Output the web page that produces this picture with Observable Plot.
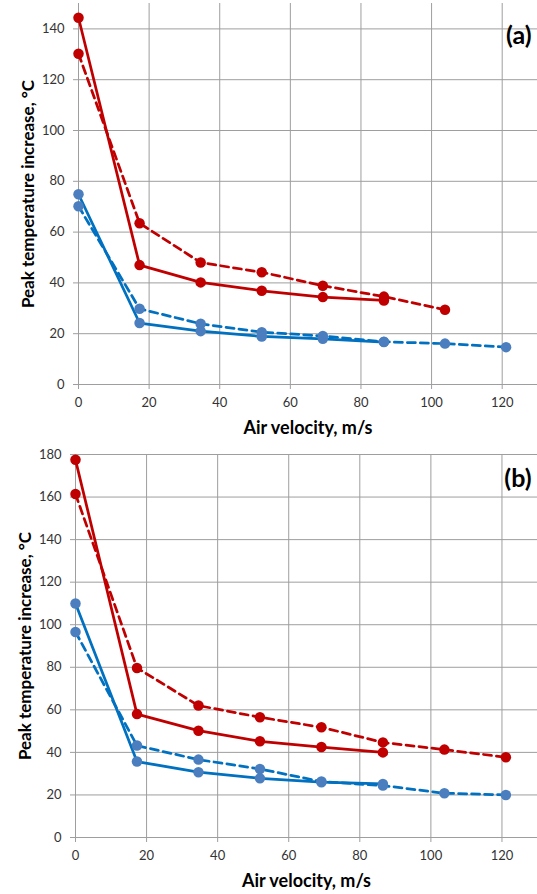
<!DOCTYPE html>
<html><head><meta charset="utf-8">
<script src="https://cdn.jsdelivr.net/npm/d3@7"></script>
<script src="https://cdn.jsdelivr.net/npm/@observablehq/plot@0.6"></script>
<style>body{margin:0;background:#fff} #chart svg{display:block}</style>
</head><body><div id="chart"></div>
<script>
// Air velocity, m/s
const velocity = [0, 17.3, 34.6, 51.9, 69.2, 86.5, 103.8, 121.1];
// Panel (a) peak temperature increase, °C
const aRedSolid   = [144.4, 47.0, 40.2, 36.9, 34.4, 33.1];
const aRedDashed  = [130.2, 63.5, 48.0, 44.2, 38.9, 34.6, 29.4];
const aBlueSolid  = [74.9, 24.2, 21.0, 18.9, 18.0, 16.7];
const aBlueDashed = [70.2, 29.8, 23.9, 20.6, 19.1, 16.8, 16.1, 14.7];
// Panel (b)
const bRedSolid   = [177.5, 58.0, 50.2, 45.2, 42.5, 40.0];
const bRedDashed  = [161.4, 79.7, 62.0, 56.5, 51.8, 44.7, 41.3, 37.7];
const bBlueSolid  = [110.0, 35.7, 30.7, 27.8, 26.0, 25.2];
const bBlueDashed = [96.6, 43.2, 36.6, 32.2, 26.3, 24.4, 20.8, 20.0];
// Ticks
const xTicks  = [0, 20, 40, 60, 80, 100, 120];
const yTicksA = [0, 20, 40, 60, 80, 100, 120, 140];
const yTicksB = [0, 20, 40, 60, 80, 100, 120, 140, 160, 180];
const xLabel = "Air velocity, m/s";
const yLabel = "Peak temperature increase, °C";

const RED = "#c00000", BLUE = "#0070c0", BLUE_M = "#4a7ebf", GRID = "#9e9e9e";

function series(values, color, marker, dashed, name) {
  return {name, color, marker, dashed, data: values.map((v, i) => ({x: velocity[i], y: v}))};
}

function panel({list, yDomain, yTicks, height, marginTop, marginBottom, marginLeft, tag, tagDy}) {
  const marks = [
    Plot.ruleX(xTicks, {stroke: GRID, strokeWidth: 1}),
    Plot.ruleY(yTicks, {stroke: GRID, strokeWidth: 1}),
    Plot.axisX(xTicks, {tickSize: 5, stroke: GRID, tickPadding: 8, label: null, fill: "#333"}),
    Plot.axisY(yTicks, {tickSize: 5, stroke: GRID, tickPadding: 9, label: null, fill: "#333"})
  ];
  for (const s of list) {
    marks.push(Plot.line(s.data, {x: "x", y: "y", stroke: s.color, strokeWidth: 2.75,
      strokeDasharray: s.dashed ? "8,5" : null}));
  }
  for (const s of list) {
    marks.push(Plot.dot(s.data, {x: "x", y: "y", r: 5.25, fill: s.marker, stroke: "none"}));
  }
  marks.push(Plot.text([yLabel], {text: d => d, frameAnchor: "left", rotate: -90, dx: -50,
    textAnchor: "middle", lineAnchor: "middle",
    fontWeight: "bold", fontSize: 17, fill: "#000"}));
  marks.push(Plot.text([xLabel], {text: d => d, frameAnchor: "bottom", dy: 44,
    textAnchor: "middle", lineAnchor: "middle",
    fontWeight: "bold", fontSize: 18, fill: "#000"}));
  marks.push(Plot.text([tag], {text: d => d, frameAnchor: "top-right", dx: -6, dy: tagDy,
    textAnchor: "end", lineAnchor: "middle",
    fontWeight: "bold", fontSize: 25, fill: "#000"}));
  return Plot.plot({
    width: 537, height, marginTop, marginBottom, marginLeft, marginRight: 0,
    style: {fontFamily: "Lato, 'Open Sans', sans-serif", fontSize: "13px", background: "#fff"},
    x: {domain: [0, 130]},
    y: {domain: yDomain},
    marks
  });
}

const root = document.getElementById("chart");
root.append(panel({
  list: [
    series(aBlueDashed, BLUE, BLUE_M, true, "blue dashed"),
    series(aBlueSolid, BLUE, BLUE_M, false, "blue solid"),
    series(aRedDashed, RED, RED, true, "red dashed"),
    series(aRedSolid, RED, RED, false, "red solid")
  ],
  yDomain: [0, 150], yTicks: yTicksA, height: 440, marginTop: 3, marginBottom: 56, marginLeft: 78,
  tag: "(a)", tagDy: 32
}));
root.append(panel({
  list: [
    series(bBlueDashed, BLUE, BLUE_M, true, "blue dashed"),
    series(bBlueSolid, BLUE, BLUE_M, false, "blue solid"),
    series(bRedDashed, RED, RED, true, "red dashed"),
    series(bRedSolid, RED, RED, false, "red solid")
  ],
  yDomain: [0, 180], yTicks: yTicksB, height: 454, marginTop: 14, marginBottom: 57, marginLeft: 75,
  tag: "(b)", tagDy: 24
}));
</script></body></html>
